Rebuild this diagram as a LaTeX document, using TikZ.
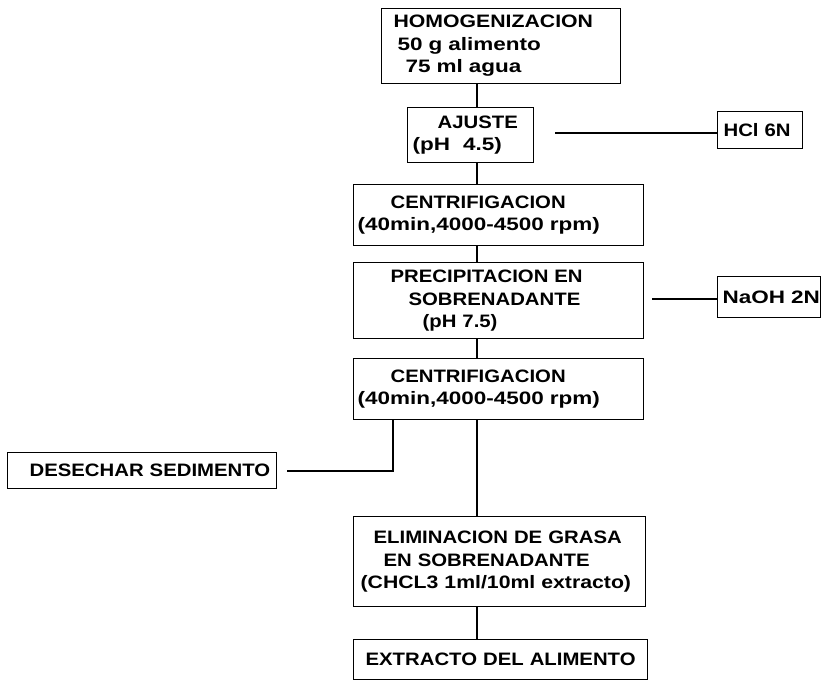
\documentclass[tikz,border=0pt]{standalone}
\usepackage{fontspec}
\setmainfont{Liberation Sans}[FakeStretch=1.25]
\newfontfamily\capsfam{Liberation Sans}[FakeStretch=1.13]
\newfontfamily\midfam{Liberation Sans}[FakeStretch=1.18]
\newcommand{\txline}[2]{\mbox{\hspace*{#1pt}#2}}
\newcommand{\txcap}[2]{\mbox{\hspace*{#1pt}{\capsfam #2}}}
\newcommand{\txmid}[2]{\mbox{\hspace*{#1pt}{\midfam #2}}}
\begin{document}
\begin{tikzpicture}[x=1pt,y=-1pt,
  box/.style={draw,line width=1.2pt,anchor=north west,inner sep=0pt,
    align=left,font=\fontsize{18}{22.5}\selectfont\bfseries},
  link/.style={line width=1.2pt}]
\useasboundingbox (0,0) rectangle (821,681);
% boxes
\node[box,minimum width=239pt,minimum height=75pt,text width=239pt] (homog) at (381,8)
  {\txmid{12}{HOMOGENIZACION}\\\txline{16}{50 g alimento}\\\txline{24}{75 ml agua}};
\node[box,minimum width=126pt,minimum height=55pt,text width=126pt] (ajuste) at (407,107)
  {\txcap{30}{AJUSTE}\\\txline{5}{(pH\hspace{13pt}4.5)}};
\node[box,minimum width=85pt,minimum height=37pt,text width=85pt] (hcl) at (717,111)
  {\txcap{6}{HCl 6N}};
\node[box,minimum width=290pt,minimum height=61pt,text width=290pt] (cent1) at (353,184)
  {\txcap{37}{CENTRIFIGACION}\\\txline{4}{(40min,4000-4500 rpm)}};
\node[box,minimum width=290pt,minimum height=76pt,text width=290pt] (precip) at (353,262)
  {\txcap{37}{PRECIPITACION EN}\\\txcap{55}{SOBRENADANTE}\\\txcap{69}{(pH 7.5)}};
\node[box,minimum width=103pt,minimum height=41pt,text width=103pt] (naoh) at (717,276)
  {\txline{5}{NaOH 2N}};
\node[box,minimum width=290pt,minimum height=61pt,text width=290pt] (cent2) at (353,358)
  {\txcap{37}{CENTRIFIGACION}\\\txline{4}{(40min,4000-4500 rpm)}};
\node[box,minimum width=269pt,minimum height=36pt,text width=269pt] (desechar) at (7,452)
  {\txcap{22}{DESECHAR SEDIMENTO}};
\node[box,minimum width=292pt,minimum height=90pt,text width=292pt] (elim) at (353,516)
  {\txcap{20}{ELIMINACION DE GRASA}\\\txcap{30}{EN SOBRENADANTE}\\\txmid{7}{(CHCL3 1ml/10ml extracto)}};
\node[box,minimum width=294pt,minimum height=40pt,text width=294pt] (extracto) at (353,639)
  {\txcap{12}{EXTRACTO DEL ALIMENTO}};
% helper coordinates
\coordinate (spine) at (477,0);
\coordinate (sedx) at (393,0);
\coordinate (desend) at (287,471);
\coordinate (hclstart) at (555,133);
\coordinate (naohstart) at (652,299);
% connectors
\draw[link] (homog.south -| spine) -- (ajuste.north -| spine);
\draw[link] (ajuste.south -| spine) -- (cent1.north -| spine);
\draw[link] (cent1.south -| spine) -- (precip.north -| spine);
\draw[link] (precip.south -| spine) -- (cent2.north -| spine);
\draw[link] (cent2.south -| spine) -- (elim.north -| spine);
\draw[link] (elim.south -| spine) -- (extracto.north -| spine);
\draw[link] (hclstart) -- (hclstart -| hcl.west);
\draw[link] (naohstart) -- (naohstart -| naoh.west);
\draw[link] (cent2.south -| sedx) |- (desend);
\end{tikzpicture}
\end{document}
